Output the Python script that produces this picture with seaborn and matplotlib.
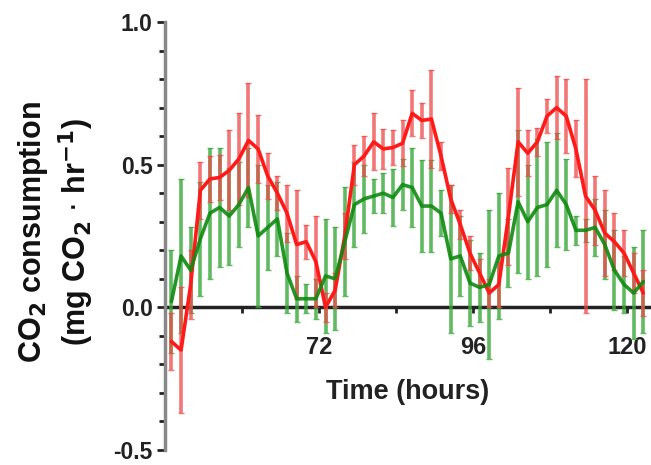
import matplotlib
matplotlib.use('Agg')
import matplotlib.pyplot as plt
import seaborn as sns
import pandas as pd
from matplotlib.ticker import MultipleLocator

sns.set_style("ticks")
plt.rcParams['font.family'] = ['Liberation Sans', 'DejaVu Sans']

# sampling every 1.5 h, starting at 49 h
hours = [49 + 1.5 * k for k in range(50)]

red_mean = [-0.12, -0.15, 0.08, 0.41, 0.45, 0.455, 0.48, 0.52, 0.585, 0.555,
            0.46, 0.40, 0.33, 0.22, 0.23, 0.16, 0.00, 0.06, 0.25, 0.50,
            0.53, 0.58, 0.555, 0.56, 0.575, 0.68, 0.655, 0.66, 0.53, 0.38,
            0.29, 0.19, 0.12, 0.05, 0.08, 0.32, 0.58, 0.54, 0.58, 0.67,
            0.70, 0.67, 0.555, 0.39, 0.34, 0.26, 0.23, 0.19, 0.12, 0.05]
red_err = [0.10, 0.22, 0.12, 0.10, 0.08, 0.08, 0.14, 0.16, 0.20, 0.12,
           0.08, 0.06, 0.10, 0.19, 0.06, 0.16, 0.05, 0.06, 0.08, 0.07,
           0.07, 0.10, 0.07, 0.06, 0.08, 0.08, 0.06, 0.17, 0.05, 0.05,
           0.05, 0.06, 0.05, 0.05, 0.08, 0.17, 0.19, 0.08, 0.05, 0.06,
           0.11, 0.13, 0.10, 0.41, 0.12, 0.15, 0.10, 0.08, 0.07, 0.08]

green_mean = [0.02, 0.18, 0.13, 0.24, 0.33, 0.35, 0.32, 0.36, 0.42, 0.25,
              0.28, 0.31, 0.12, 0.03, 0.03, 0.03, 0.11, 0.10, 0.23, 0.36,
              0.38, 0.39, 0.40, 0.385, 0.43, 0.42, 0.355, 0.355, 0.33, 0.17,
              0.18, 0.085, 0.07, 0.08, 0.18, 0.19, 0.37, 0.30, 0.35, 0.36,
              0.41, 0.36, 0.27, 0.27, 0.28, 0.22, 0.13, 0.08, 0.05, 0.09]
green_err = [0.18, 0.27, 0.15, 0.20, 0.23, 0.21, 0.17, 0.15, 0.14, 0.25,
             0.15, 0.13, 0.14, 0.08, 0.05, 0.07, 0.20, 0.18, 0.19, 0.15,
             0.12, 0.06, 0.07, 0.10, 0.09, 0.14, 0.16, 0.16, 0.08, 0.26,
             0.14, 0.15, 0.12, 0.26, 0.22, 0.12, 0.25, 0.20, 0.24, 0.22,
             0.20, 0.16, 0.05, 0.04, 0.10, 0.12, 0.14, 0.10, 0.16, 0.18]

df = pd.DataFrame({'hours': hours, 'red': red_mean, 'green': green_mean})

fig = plt.figure(figsize=(6.51, 4.65), dpi=100)
ax = fig.add_axes([0.2535, 0.0323, 0.7465, 0.9204])

# error bars
ax.errorbar(hours, green_mean, yerr=green_err, fmt='none', ecolor='#3aa83a',
            elinewidth=2.6, capsize=2, alpha=0.8, zorder=2)
ax.errorbar(hours, red_mean, yerr=red_err, fmt='none', ecolor='#f04848',
            elinewidth=2.6, capsize=2, alpha=0.75, zorder=2)

sns.lineplot(data=df, x='hours', y='red', color='#ff1a1a', linewidth=2.6,
             ax=ax, zorder=3)
sns.lineplot(data=df, x='hours', y='green', color='#0f8a0f', linewidth=2.6,
             ax=ax, zorder=3, alpha=0.9)

ax.set_xlim(48, 123.7)
ax.set_ylim(-0.5, 1.0)

ax.spines['top'].set_visible(False)
ax.spines['right'].set_visible(False)
ax.spines['bottom'].set_position(('data', 0))
ax.spines['bottom'].set_color('#222222')
ax.spines['bottom'].set_linewidth(2.5)
ax.spines['bottom'].set_zorder(1)
ax.spines['left'].set_color('#888888')
ax.spines['left'].set_linewidth(2.5)

ax.set_xticks([72, 96, 120])
ax.set_xticks([60, 84, 108], minor=True)
ax.set_yticks([-0.5, 0.0, 0.5, 1.0])
ax.yaxis.set_minor_locator(MultipleLocator(0.1))
ax.set_yticklabels(['-0.5', '0.0', '0.5', '1.0'])

ax.tick_params(axis='x', which='major', length=4, width=2, pad=17,
               labelsize=17, colors='#222222')
ax.tick_params(axis='x', which='minor', length=4, width=2, colors='#222222')
ax.tick_params(axis='y', which='major', length=6, width=2, pad=3,
               labelsize=16.5, colors='#222222')
ax.tick_params(axis='y', which='minor', length=4, width=2, colors='#222222')
for lab in ax.get_xticklabels() + ax.get_yticklabels():
    lab.set_fontweight('bold')

ax.set_xlabel('Time (hours)', fontsize=19.5, fontweight='bold', color='#222222')
ax.xaxis.set_label_coords(0.5, 0.165)
ax.set_ylabel('')
fig.text(0.05, 0.50, r'CO$_\mathbf{2}$ consumption', rotation=90, fontsize=22,
         fontweight='bold', ha='center', va='center', color='#111111')
fig.text(0.117, 0.50, r'(mg CO$_\mathbf{2}$ $\cdot$ hr$^\mathbf{-1}$)', rotation=90,
         fontsize=22, fontweight='bold', ha='center', va='center', color='#111111')

fig.savefig('out.png', dpi=100)
